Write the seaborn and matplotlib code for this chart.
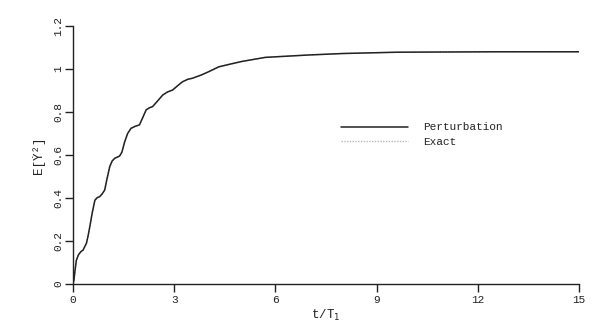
import matplotlib
matplotlib.use("Agg")
import matplotlib.pyplot as plt
import seaborn as sns
import pandas as pd

# Normalised time t/T1 and mean-square response E[Ydot^2]
t_vals = [0.0, 0.03, 0.06, 0.10, 0.16, 0.23, 0.30, 0.40, 0.45, 0.50, 0.57,
          0.65, 0.72, 0.79, 0.86, 0.94, 1.01, 1.09, 1.16, 1.24, 1.31, 1.38,
          1.45, 1.53, 1.62, 1.72, 1.85, 1.97, 2.07, 2.17, 2.27, 2.36, 2.50,
          2.66, 2.80, 2.95, 3.10, 3.24, 3.40, 3.54, 3.80, 4.03, 4.32, 4.56,
          5.0, 5.7, 6.97, 8.0, 9.6, 11.0, 12.5, 14.0, 15.0]
perturbation = [0.0, 0.02, 0.06, 0.11, 0.135, 0.150, 0.158, 0.19, 0.225,
                0.267, 0.33, 0.39, 0.402, 0.406, 0.418, 0.437, 0.49, 0.546,
                0.572, 0.585, 0.590, 0.595, 0.613, 0.66, 0.70, 0.724, 0.734,
                0.74, 0.775, 0.81, 0.820, 0.825, 0.850, 0.879, 0.893, 0.902,
                0.922, 0.94, 0.952, 0.957, 0.972, 0.988, 1.01, 1.019, 1.035,
                1.054, 1.065, 1.072, 1.078, 1.079, 1.08, 1.08, 1.08]
exact = perturbation

x_ticks = [0, 3, 6, 9, 12, 15]
y_ticks = [0, 0.2, 0.4, 0.6, 0.8, 1.0, 1.2]
y_tick_labels = ["0", "0.2", "0.4", "0.6", "0.8", "1", "1.2"]

sns.set_theme(style="ticks")
plt.rcParams["font.family"] = ["Liberation Mono", "DejaVu Sans Mono"]

df = pd.DataFrame({"t": t_vals, "Perturbation": perturbation, "Exact": exact})

fig = plt.figure(figsize=(6.13, 3.33), dpi=100)
ax = fig.add_axes([0.119, 0.147, 0.826, 0.775])

sns.lineplot(data=df, x="t", y="Exact", ax=ax, color="#b8b8b8",
             linestyle=(0, (1, 1)), linewidth=1.0, label="Exact", zorder=1)
sns.lineplot(data=df, x="t", y="Perturbation", ax=ax, color="#222222",
             linewidth=1.1, label="Perturbation", zorder=2)

ax.set_xlim(0, 15)
ax.set_ylim(0, 1.2)
ax.set_xticks(x_ticks)
ax.set_yticks(y_ticks)
ax.set_yticklabels(y_tick_labels, rotation=90, va="center")
ax.tick_params(axis="both", direction="out", length=6, width=1.0,
               labelsize=8, colors="#222222", pad=2)
ax.tick_params(axis="y", pad=1)
ax.spines["top"].set_visible(False)
ax.spines["right"].set_visible(False)
for s in ("left", "bottom"):
    ax.spines[s].set_linewidth(1.0)
    ax.spines[s].set_color("#222222")

ax.set_xlabel("t/T$_1$", fontsize=9, color="#222222", labelpad=2)
ax.set_ylabel("E[Ẏ²]", fontsize=9, color="#222222", labelpad=6)

handles, labels = ax.get_legend_handles_labels()
order = [labels.index("Perturbation"), labels.index("Exact")]
ax.legend([handles[i] for i in order], [labels[i] for i in order],
          loc="upper left", bbox_to_anchor=(0.51, 0.665), frameon=False,
          fontsize=8, handlelength=6.0, handletextpad=1.4, labelspacing=0.4)

fig.savefig("out.png", dpi=100)
